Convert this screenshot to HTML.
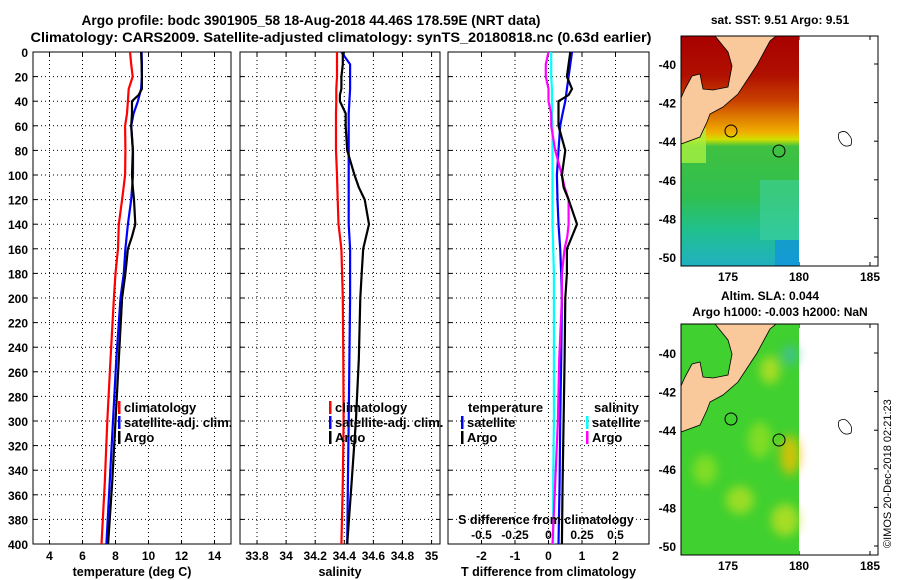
<!DOCTYPE html>
<html><head><meta charset="utf-8"><style>
body{margin:0;background:#fff;}
svg{display:block;font-family:"Liberation Sans",sans-serif;font-weight:bold;}
</style></head><body>
<svg id="c" width="900" height="580" viewBox="0 0 900 580">
<defs>
<linearGradient id="sstg" x1="0" y1="0" x2="0" y2="1">
<stop offset="0" stop-color="#a80000"/><stop offset="0.17" stop-color="#b01000"/>
<stop offset="0.28" stop-color="#c84000"/><stop offset="0.36" stop-color="#e08000"/>
<stop offset="0.42" stop-color="#f0b000"/><stop offset="0.45" stop-color="#d0e000"/>
<stop offset="0.48" stop-color="#40c040"/><stop offset="0.7" stop-color="#30c050"/>
<stop offset="0.85" stop-color="#20c090"/><stop offset="1" stop-color="#20b0c0"/>
</linearGradient>
<filter id="bl"><feGaussianBlur stdDeviation="5"/></filter>
</defs>
<text x="311" y="25" text-anchor="middle" font-size="13.5" textLength="459" lengthAdjust="spacingAndGlyphs">Argo profile: bodc 3901905_58 18-Aug-2018 44.46S 178.59E (NRT data)</text>
<text x="341" y="42" text-anchor="middle" font-size="13.5" textLength="621" lengthAdjust="spacingAndGlyphs">Climatology: CARS2009. Satellite-adjusted climatology: synTS_20180818.nc (0.63d earlier)</text>
<g id="plots"></g>
<g id="maps">
<text x="780" y="24" text-anchor="middle" font-size="12">sat. SST: 9.51 Argo: 9.51</text>
<rect x="681" y="36" width="118" height="230" fill="url(#sstg)"/>
<rect x="681" y="128" width="25" height="35" fill="#a8f040" opacity="0.8"/>
<rect x="760" y="180" width="39" height="60" fill="#40d0a0" opacity="0.6"/>
<rect x="775" y="240" width="24" height="26" fill="#1090e0" opacity="0.7"/>
<polygon id="land1" points="715,36 776,36 770,41 757,65 738,94 723,107 710,114 707,122 700,137 681,144 681,98 685,89 692,76 700,74 703,89 713,90 728,87 732,66 728,52" fill="#f9c89b" stroke="#000" stroke-width="0.8"/>
<circle cx="731" cy="131" r="6" fill="none" stroke="#000"/><circle cx="779" cy="151" r="6" fill="none" stroke="#000"/>
<path d="M839,133 q6,-4 10,2 q4,4 2,10 q-6,3 -10,-2 q-4,-5 -2,-10z" fill="none" stroke="#000" stroke-width="0.8"/>
<rect x="681" y="36" width="197" height="230" fill="none" stroke="#000"/>
<text x="770" y="300" text-anchor="middle" font-size="12">Altim. SLA: 0.044</text>
<text x="780" y="316" text-anchor="middle" font-size="12">Argo h1000: -0.003 h2000: NaN</text>
<rect x="681" y="324" width="118" height="231" fill="#40d030"/>
<g filter="url(#bl)" opacity="0.8">
<ellipse cx="770" cy="370" rx="10" ry="14" fill="#c0e020"/><ellipse cx="790" cy="455" rx="10" ry="20" fill="#f0c000"/>
<ellipse cx="740" cy="500" rx="14" ry="14" fill="#b0e020"/><ellipse cx="785" cy="520" rx="14" ry="16" fill="#c0e020"/>
<ellipse cx="790" cy="355" rx="8" ry="10" fill="#40c0a0"/><ellipse cx="760" cy="440" rx="12" ry="18" fill="#90e020"/>
<ellipse cx="705" cy="470" rx="12" ry="15" fill="#90e020"/>
</g>
<polygon points="715,324 776,324 770,329 757,353 738,382 723,395 710,402 707,410 700,425 681,432 681,386 685,377 692,364 700,362 703,377 713,378 728,375 732,354 728,340" fill="#f9c89b" stroke="#000" stroke-width="0.8"/>
<circle cx="731" cy="419" r="6" fill="none" stroke="#000"/><circle cx="779" cy="440" r="6" fill="none" stroke="#000"/>
<path d="M839,421 q6,-4 10,2 q4,4 2,10 q-6,3 -10,-2 q-4,-5 -2,-10z" fill="none" stroke="#000" stroke-width="0.8"/>
<rect x="681" y="324" width="197" height="231" fill="none" stroke="#000"/>
<text transform="translate(891,548) rotate(-90)" font-size="11" font-weight="normal">©IMOS 20-Dec-2018 02:21:23</text>
</g>
</svg>
<script>
const depths=[0,10,20,30,40,50,60,80,100,120,140,160,180,200,250,300,350,400];
const tClim=[8.88,8.95,9.04,8.8,8.75,8.7,8.58,8.6,8.58,8.4,8.2,8.15,8.0,7.9,7.7,7.5,7.35,7.15];
const tSat=[9.58,9.6,9.6,9.55,9.36,9.1,8.95,9.06,9.06,8.95,8.75,8.6,8.5,8.3,8.05,7.85,7.65,7.45];
const argoDepths=[0,10,20,30,35,40,50,60,80,100,110,120,140,150,160,180,200,250,300,350,400];
const tArgo=[9.55,9.58,9.6,9.6,9.4,9.0,9.0,8.95,9.05,9.0,9.05,9.12,9.2,9.0,8.75,8.6,8.4,8.2,8.0,7.8,7.55];
const sClim=[34.35,34.35,34.35,34.345,34.345,34.343,34.343,34.343,34.35,34.355,34.36,34.38,34.385,34.39,34.393,34.395,34.39,34.38];
const sSat=[34.38,34.44,34.44,34.44,34.435,34.43,34.43,34.43,34.43,34.43,34.43,34.44,34.44,34.44,34.435,34.43,34.425,34.42];
const sArgo=[34.39,34.39,34.38,34.38,34.37,34.37,34.41,34.41,34.42,34.47,34.5,34.54,34.57,34.55,34.53,34.52,34.51,34.5,34.48,34.45,34.42];
const tSatDiff=[0.7,0.65,0.6,0.55,0.5,0.42,0.35,0.3,0.25,0.27,0.3,0.35,0.38,0.4,0.38,0.35,0.33,0.3];
const tArgoDiff=[0.65,0.6,0.55,0.7,0.6,0.3,0.3,0.3,0.5,0.4,0.45,0.6,0.85,0.7,0.55,0.55,0.5,0.48,0.45,0.42,0.4];
const sSatDiff=[0.02,0.02,0.02,0.025,0.025,0.025,0.03,0.03,0.03,0.03,0.03,0.035,0.04,0.04,0.04,0.04,0.035,0.035];
const sArgoDiff=[0.0,-0.02,-0.02,0.0,0.0,0.0,0.02,0.02,0.05,0.1,0.12,0.15,0.15,0.14,0.12,0.1,0.1,0.08,0.07,0.05,0.03];
const yTicks=[0,20,40,60,80,100,120,140,160,180,200,220,240,260,280,300,320,340,360,380,400];
const tTicks=[4,6,8,10,12,14], sTicks=[33.8,34,34.2,34.4,34.6,34.8,35], dTicks=[-2,-1,0,1,2], sdTicks=[-0.5,-0.25,0,0.25,0.5];
const NS="http://www.w3.org/2000/svg", root=document.getElementById('plots');
const Y0=52,Y1=544; const yS=d=>Y0+d/400*(Y1-Y0);
function mk(tag,at,parent){const e=document.createElementNS(NS,tag);for(const k in at)e.setAttribute(k,at[k]);(parent||root).appendChild(e);return e;}
function lin(d0,d1,r0,r1){return v=>r0+(v-d0)/(d1-d0)*(r1-r0);}
const panels=[
 {x0:33,x1:231,sc:lin(3,15,33,231),ticks:tTicks,name:'temperature-panel',title:'temperature (deg C)',showY:true},
 {x0:240,x1:440,sc:lin(33.683,35.058,240,440),ticks:sTicks,name:'salinity-panel',title:'salinity'},
 {x0:448,x1:649,sc:lin(-3,3,448,649),ticks:dTicks,name:'difference-panel',title:'T difference from climatology'}];
panels.forEach(p=>{
 const g=mk('g',{});
 
 
 p.g=g;
 yTicks.forEach(d=>{
  if(d>0&&d<400){const l=mk('line',{x1:p.x0,x2:p.x1,y1:yS(d),y2:yS(d),stroke:'#000','stroke-width':1,'stroke-dasharray':'1,3'},g);
  }
  mk('line',{x1:p.x0,x2:p.x0+4,y1:yS(d),y2:yS(d),stroke:'#000'},g);
  mk('line',{x1:p.x1-4,x2:p.x1,y1:yS(d),y2:yS(d),stroke:'#000'},g);
  if(p.showY){const t=mk('text',{x:28,y:yS(d)+5,'text-anchor':'end','font-size':12},g);t.textContent=d;
   }
 });
 p.ticks.forEach(v=>{const x=p.sc(v);
  const l=mk('line',{x1:x,x2:x,y1:Y0,y2:Y1,stroke:'#000','stroke-dasharray':'1,3'},g);
  
  mk('line',{x1:x,x2:x,y1:Y1-4,y2:Y1,stroke:'#000'},g);mk('line',{x1:x,x2:x,y1:Y0,y2:Y0+4,stroke:'#000'},g);
  const t=mk('text',{x:x,y:560,'text-anchor':'middle','font-size':12},g);t.textContent=v;
  });
 const f=mk('rect',{x:p.x0,y:Y0,width:p.x1-p.x0,height:Y1-Y0,fill:'none',stroke:'#000'},g);
 
 const tt=mk('text',{x:(p.x0+p.x1)/2,y:576,'text-anchor':'middle','font-size':12.5},g);tt.textContent=p.title;
 
});
function series(p,xs,ds,col,name,sc){
 const s=sc||p.sc;const pts=xs.map((v,i)=>s(v).toFixed(1)+','+yS(ds[i]).toFixed(1)).join(' ');
 const l=mk('polyline',{points:pts,fill:'none',stroke:col,'stroke-width':2.2},p.g);
 }
const P=panels;
series(P[0],tClim,depths,'#f00','temp-climatology-line');series(P[0],tSat,depths,'#00f','temp-satellite-line');series(P[0],tArgo,argoDepths,'#000','temp-argo-line');
series(P[1],sClim,depths,'#f00','sal-climatology-line');series(P[1],sSat,depths,'#00f','sal-satellite-line');series(P[1],sArgo,argoDepths,'#000','sal-argo-line');
const sdS=lin(-0.75,0.75,448,649);
series(P[2],sSatDiff,depths,'#0ff','sdiff-satellite-line',sdS);series(P[2],tSatDiff,depths,'#00f','tdiff-satellite-line');
series(P[2],sArgoDiff,argoDepths,'#f0f','sdiff-argo-line',sdS);series(P[2],tArgoDiff,argoDepths,'#000','tdiff-argo-line');
function leg(x,y,col,txt){const g=mk('g',{});
 
 if(col)mk('rect',{x:x,y:y-11,width:2.5,height:13,fill:col},g);
 const t=mk('text',{x:x+6,y:y,'font-size':13},g);t.textContent=txt;}
leg(118,412,'#f00','climatology');leg(118,427,'#00f','satellite-adj. clim.');leg(118,442,'#000','Argo');
leg(329,412,'#f00','climatology');leg(329,427,'#00f','satellite-adj. clim.');leg(329,442,'#000','Argo');
leg(462,412,null,'temperature');leg(461,427,'#00f','satellite');leg(461,442,'#000','Argo');
leg(588,412,null,'salinity');leg(586,427,'#0ff','satellite');leg(586,442,'#f0f','Argo');
const st=mk('text',{x:546,y:524,'text-anchor':'middle','font-size':12.5});st.textContent='S difference from climatology';

sdTicks.forEach(v=>{const t=mk('text',{x:sdS(v),y:539,'text-anchor':'middle','font-size':12});t.textContent=v;
 });
const lonTicks=[175,180,185], latTicks=[-40,-42,-44,-46,-48,-50];
const lonS=lin(175,180,728,799);
[[36,266,64,257],[324,555,353,546]].forEach(m=>{const latS=lin(-40,-50,m[2],m[3]);
 lonTicks.forEach(v=>{const x=lonS(v);mk('line',{x1:x,x2:x,y1:m[1],y2:m[1]-4,stroke:'#000'});mk('line',{x1:x,x2:x,y1:m[0],y2:m[0]+4,stroke:'#000'});
  const t=mk('text',{x:x,y:m[1]+15,'text-anchor':'middle','font-size':12});t.textContent=v;
  });
 latTicks.forEach(v=>{const y=latS(v);mk('line',{x1:681,x2:685,y1:y,y2:y,stroke:'#000'});mk('line',{x1:874,x2:878,y1:y,y2:y,stroke:'#000'});
  const t=mk('text',{x:676,y:y+5,'text-anchor':'end','font-size':12});t.textContent=v;
  });
});
</script>
</body></html>
